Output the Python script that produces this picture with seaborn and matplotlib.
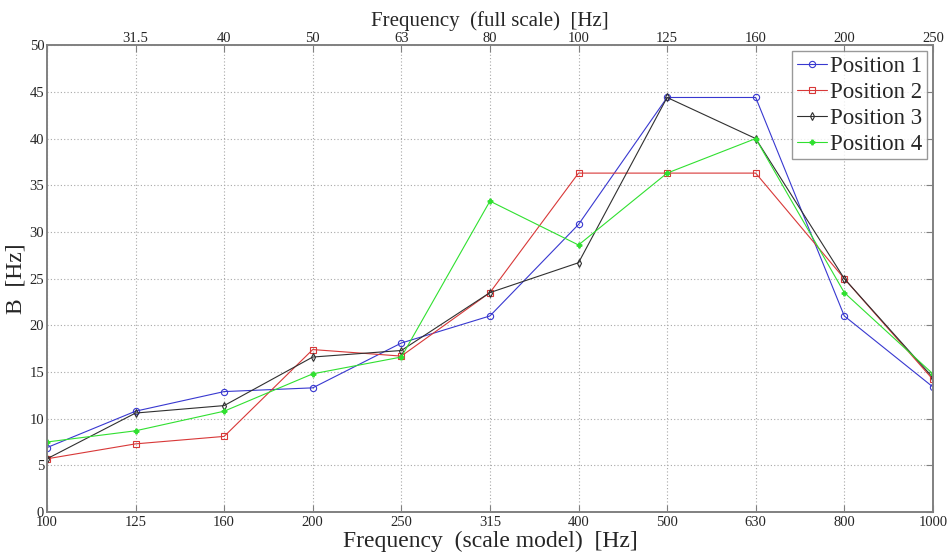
import matplotlib
matplotlib.use("Agg")
import matplotlib.pyplot as plt
import seaborn as sns
import pandas as pd
import numpy as np

scale_model_labels = ["100", "125", "160", "200", "250", "315", "400", "500", "630", "800", "1000"]
full_scale_labels = ["", "31.5", "40", "50", "63", "80", "100", "125", "160", "200", "250"]
series_names = ["Position 1", "Position 2", "Position 3", "Position 4"]
pos1 = [6.9, 10.8, 12.9, 13.3, 18.1, 21.0, 30.8, 44.4, 44.4, 21.0, 13.4]
pos2 = [5.7, 7.3, 8.1, 17.4, 16.7, 23.5, 36.3, 36.3, 36.3, 25.0, 14.2]
pos3 = [5.7, 10.6, 11.4, 16.6, 17.3, 23.5, 26.7, 44.4, 40.0, 25.0, 14.4]
pos4 = [7.5, 8.7, 10.8, 14.8, 16.6, 33.3, 28.6, 36.3, 40.0, 23.5, 14.8]

sns.set_style("white")
plt.rcParams["font.family"] = ["Liberation Serif", "DejaVu Serif"]

rows = []
for name, vals in zip(series_names, [pos1, pos2, pos3, pos4]):
    for i, v in enumerate(vals):
        rows.append({"idx": i, "B": v, "series": name})
df = pd.DataFrame(rows)

colors = {"Position 1": "#3838d0", "Position 2": "#d83838", "Position 3": "#303030", "Position 4": "#30e030"}
markers = {"Position 1": "o", "Position 2": "s", "Position 3": "d", "Position 4": "P"}
msizes = {"Position 1": 4.5, "Position 2": 4.5, "Position 3": 4.0, "Position 4": 3.5}

fig = plt.figure(figsize=(9.49, 5.58), dpi=100)
ax = fig.add_axes([0.0495, 0.0824, 0.9335, 0.8366])

for name in series_names:
    sub = df[df.series == name]
    filled = name == "Position 4"
    sns.lineplot(data=sub, x="idx", y="B", ax=ax, color=colors[name], lw=0.8,
                 marker=markers[name], markersize=msizes[name],
                 markerfacecolor="none" if not filled else colors[name],
                 markeredgecolor=colors[name], markeredgewidth=0.8,
                 label=name, legend=False)

ax.set_xlim(0, 10)
ax.set_ylim(0, 50)
ax.set_xticks(range(11))
ax.set_xticklabels(scale_model_labels, fontsize=10.5)
ax.set_yticks(range(0, 51, 5))
ax.tick_params(axis="y", labelsize=10.5, pad=2)
ax.tick_params(axis="x", pad=3)
ax.tick_params(direction="in", length=5, color="#808080", top=False, right=True, which="both")
ax.grid(True, linestyle=(0, (1, 2)), color="#a8a8a8", lw=0.8)
for s in ax.spines.values():
    s.set_color("#808080")
    s.set_linewidth(1.2)

ax.set_xlabel("Frequency  (scale model)  [Hz]", fontsize=17, labelpad=1)
ax.set_ylabel("B  [Hz]", fontsize=17, labelpad=2)

ax2 = ax.twiny()
ax2.set_xlim(ax.get_xlim())
ax2.set_xticks(range(11))
ax2.set_xticklabels(full_scale_labels, fontsize=10.5)
ax2.tick_params(direction="in", length=5, color="#808080", pad=0.5)
for s in ax2.spines.values():
    s.set_color("#808080")
    s.set_linewidth(1.2)
ax2.set_xlabel("Frequency  (full scale)  [Hz]", fontsize=15, labelpad=4)

handles, labels = ax.get_legend_handles_labels()
leg = ax2.legend(handles, labels, loc="upper right", fontsize=16.5, frameon=True, fancybox=False,
                 edgecolor="#808080", handlelength=1.3, handletextpad=0.15, borderpad=0.2,
                 labelspacing=0.22, borderaxespad=0.25)
leg.get_frame().set_linewidth(1.0)

fig.savefig("out.png", dpi=100)
